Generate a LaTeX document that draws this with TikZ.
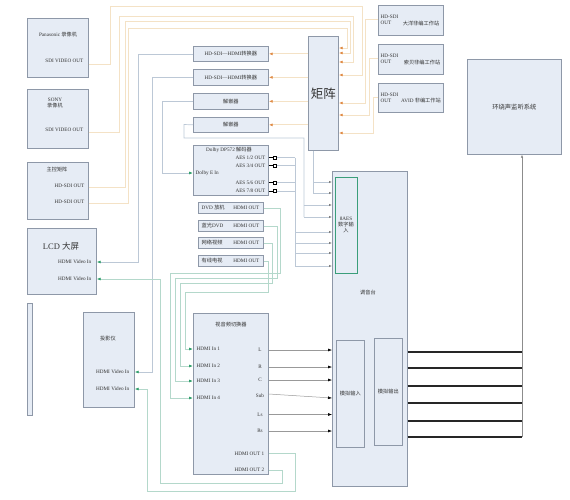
\documentclass[tikz,border=0pt]{standalone}
\usepackage{fontspec}
\setmainfont{Liberation Serif}
\newfontfamily\cjk{Noto Sans CJK SC}
\newcommand\zhs[1]{{\cjk #1}}
\usetikzlibrary{arrows.meta}
\definecolor{boxfill}{HTML}{E6ECF5}
\definecolor{boxline}{HTML}{8E98A8}
\definecolor{sdiline}{HTML}{F4E2C6}
\definecolor{sdiarrow}{HTML}{E08B45}
\definecolor{hdline}{HTML}{B4D8CB}
\definecolor{hdarrow}{HTML}{2E9E6A}
\definecolor{grayline}{HTML}{BCC8D6}
\definecolor{txt}{HTML}{333333}
\definecolor{aesgreen}{HTML}{3A9E7A}
\begin{document}
\begin{tikzpicture}[x=1pt,y=-1pt,
 box/.style={draw=boxline,fill=boxfill,line width=0.7pt,inner sep=0pt,anchor=north west},
 lbl/.style={text=txt,font=\fontsize{5.2}{6}\selectfont,inner sep=0.5pt},
 sdi/.style={draw=sdiline,line width=0.8pt},
 sdiarr/.style={sdi,-{Latex[length=4pt,width=3pt,color=sdiarrow]}},
 hd/.style={draw=hdline,line width=0.7pt},
 hdarr/.style={hd,-{Latex[length=4pt,width=3pt,color=hdarrow]}},
 gl/.style={draw=grayline,line width=0.7pt},
 glarr/.style={gl,-{Latex[length=3pt,width=2.4pt,color=gray]}},
 garr/.style={gl,-{Latex[length=4pt,width=3pt,color=hdarrow]}},
 blkarr/.style={draw=gray!80,line width=0.5pt,-{Latex[length=4pt,width=3pt,color=black]}},
 aout/.style={draw=black!85,line width=1.1pt},
 plug/.style={draw=black,fill=white,line width=0.4pt,minimum size=3pt,inner sep=0pt},
]
\useasboundingbox (0,0) rectangle (570,499);

% ---------- left sources ----------
\node[box,minimum width=61pt,minimum height=59pt] (pana) at (27,18) {};
\node[lbl] (panat) at (58,35) {Panasonic \zhs{录像机}};
\node[lbl,anchor=east] (panaout) at (84,61) {SDI VIDEO OUT};

\node[box,minimum width=61pt,minimum height=59pt] (sony) at (27,89) {};
\node[lbl,align=center] (sonyt) at (55,103) {SONY\\\zhs{录像机}};
\node[lbl,anchor=east] (sonyout) at (84,130) {SDI VIDEO OUT};

\node[box,minimum width=61pt,minimum height=57pt] (mcm) at (27,162) {};
\node[lbl] (mcmt) at (57,170) {\zhs{主控矩阵}};
\node[lbl,anchor=east] (mcmo1) at (85,186) {HD-SDI OUT};
\node[lbl,anchor=east] (mcmo2) at (85,202) {HD-SDI OUT};

\node[box,minimum width=69pt,minimum height=66pt] (lcd) at (27,228) {};
\node[lbl,font=\fontsize{8.5}{10}\selectfont] (lcdt) at (61,246) {LCD \zhs{大屏}};
\node[lbl,anchor=east] (lcdin1) at (92,262) {HDMI Video In};
\node[lbl,anchor=east] (lcdin2) at (92,279) {HDMI Video In};

\node[box,minimum width=5pt,minimum height=112pt] (bar) at (27,303) {};

\node[box,minimum width=51pt,minimum height=95pt] (proj) at (83,312) {};
\node[lbl] (projt) at (108,339) {\zhs{投影仪}};
\node[lbl,anchor=east] (projin1) at (130,372) {HDMI Video In};
\node[lbl,anchor=east] (projin2) at (130,389) {HDMI Video In};

% ---------- middle column ----------
\node[box,minimum width=75pt,minimum height=15pt] (conv1) at (193,46) {};
\node[lbl] at (conv1.center) {HD-SDI—HDMI\zhs{转换器}};
\node[box,minimum width=75pt,minimum height=16pt] (conv2) at (193,69) {};
\node[lbl] at (conv2.center) {HD-SDI—HDMI\zhs{转换器}};
\node[box,minimum width=75pt,minimum height=16pt] (dem1) at (193,93) {};
\node[lbl] at (dem1.center) {\zhs{解嵌器}};
\node[box,minimum width=75pt,minimum height=15pt] (dem2) at (193,117) {};
\node[lbl] at (dem2.center) {\zhs{解嵌器}};

\node[box,minimum width=75pt,minimum height=50pt] (dolby) at (193,145) {};
\node[lbl] (dolbyt) at (229,150) {Dolby DP572 \zhs{解码器}};
\node[lbl,anchor=east] (aes1) at (266,157.5) {AES 1/2 OUT};
\node[lbl,anchor=east] (aes2) at (266,165.5) {AES 3/4 OUT};
\node[lbl,anchor=west] (dolbyin) at (195,173) {Dolby E In};
\node[lbl,anchor=east] (aes3) at (266,182.5) {AES 5/6 OUT};
\node[lbl,anchor=east] (aes4) at (266,191) {AES 7/8 OUT};

\node[box,minimum width=65pt,minimum height=11pt] (dvd) at (198,202) {};
\node[lbl,anchor=west] at (201,207.5) {DVD \zhs{放机}};
\node[lbl,anchor=east] at (260,207.5) {HDMI OUT};
\node[box,minimum width=65pt,minimum height=11pt] (blu) at (198,220) {};
\node[lbl,anchor=west] at (201,225.5) {\zhs{蓝光}DVD};
\node[lbl,anchor=east] at (260,225.5) {HDMI OUT};
\node[box,minimum width=65pt,minimum height=11pt] (net) at (198,237) {};
\node[lbl,anchor=west] at (201,242.5) {\zhs{网络视频}};
\node[lbl,anchor=east] at (260,242.5) {HDMI OUT};
\node[box,minimum width=65pt,minimum height=11pt] (cab) at (198,255) {};
\node[lbl,anchor=west] at (201,260.5) {\zhs{有线电视}};
\node[lbl,anchor=east] at (260,260.5) {HDMI OUT};

\node[box,minimum width=75pt,minimum height=161pt] (sw) at (193,313) {};
\node[lbl] (swt) at (231,325) {\zhs{视音频切换器}};
\node[lbl,anchor=west] (swin1) at (196,349) {HDMI In 1};
\node[lbl,anchor=west] (swin2) at (196,366) {HDMI In 2};
\node[lbl,anchor=west] (swin3) at (196,381) {HDMI In 3};
\node[lbl,anchor=west] (swin4) at (196,398) {HDMI In 4};
\node[lbl] (swL) at (260,350) {L};
\node[lbl] (swR) at (260,367) {R};
\node[lbl] (swC) at (260,380) {C};
\node[lbl] (swSub) at (260,396) {Sub};
\node[lbl] (swLs) at (260,414.5) {Ls};
\node[lbl] (swRs) at (260,431) {Rs};
\node[lbl,anchor=east] (swout1) at (265,453.5) {HDMI OUT 1};
\node[lbl,anchor=east] (swout2) at (265,470) {HDMI OUT 2};

% ---------- matrix & workstations ----------
\node[box,minimum width=30pt,minimum height=114pt] (mtx) at (308,36) {};
\node[lbl,font=\fontsize{12.5}{14}\selectfont] at (mtx.center) {\zhs{矩阵}};

\node[box,minimum width=65pt,minimum height=30pt] (ws1) at (378,5) {};
\node[lbl,anchor=west,align=left] at (380,20) {HD-SDI\\OUT};
\node[lbl] at (421,24) {\zhs{大洋非编工作站}};
\node[box,minimum width=65pt,minimum height=30pt] (ws2) at (378,44) {};
\node[lbl,anchor=west,align=left] at (380,59) {HD-SDI\\OUT};
\node[lbl] at (422,63) {\zhs{索贝非编工作站}};
\node[box,minimum width=65pt,minimum height=29pt] (ws3) at (378,83) {};
\node[lbl,anchor=west,align=left] at (380,97.5) {HD-SDI\\OUT};
\node[lbl] at (421,101) {AVID \zhs{非编工作站}};

\node[box,minimum width=94pt,minimum height=95pt] (surr) at (467,59) {};
\node[lbl,font=\fontsize{6.3}{7.5}\selectfont] at (surr.center) {\zhs{环绕声监听系统}};

% ---------- mixer ----------
\node[box,minimum width=75pt,minimum height=315pt] (mixer) at (332,171) {};
\node[lbl] at (368,292) {\zhs{调音台}};
\node[box,draw=aesgreen,line width=1pt,minimum width=22pt,minimum height=96pt] (aes8) at (335,177) {};
\node[lbl,align=center,fill=boxfill] at (346,225) {8AES\\\zhs{数字输}\\\zhs{入}};
\node[box,minimum width=28pt,minimum height=107pt] (ain) at (336,340) {};
\node[lbl] at (ain.center) {\zhs{模拟输入}};
\node[box,minimum width=28pt,minimum height=107pt] (aoutb) at (374,338) {};
\node[lbl] at (aoutb.center) {\zhs{模拟输出}};

% ---------- SDI connectors into matrix ----------
\draw[sdiarr] (pana.east|-0,64) -| (110,6) -| (362,75) -- (mtx.east|-0,75);
\draw[sdiarr] (sony.east|-0,132) -| (119,16) -| (353,62) -- (mtx.east|-0,62);
\draw[sdiarr] (mcm.east|-0,187) -| (125,21) -| (350,53) -- (mtx.east|-0,53);
\draw[sdiarr] (mcm.east|-0,203) -| (128,28) -| (347,48) -- (mtx.east|-0,48);
\draw[sdiarr] (ws1.west|-0,19) -| (365,103) -- (mtx.east|-0,103);
\draw[sdiarr] (ws2.west|-0,58) -| (369,115) -- (mtx.east|-0,115);
\draw[sdiarr] (ws3.west|-0,97) -| (373,133) -- (mtx.east|-0,133);

% matrix outputs to converters / de-embedders
\draw[sdiarr] (mtx.west|-conv1) -- (conv1.east);
\draw[sdiarr] (mtx.west|-conv2) -- (conv2.east);
\draw[sdiarr] (mtx.west|-dem1) -- (dem1.east);
\draw[sdiarr] (mtx.west|-dem2) -- (dem2.east);

% converter / de-embedder outputs
\draw[garr] (conv1.west) -| (138,262) -- (lcd.east|-lcdin1);
\draw[garr] (conv2.west) -| (152,372) -- (proj.east|-projin1);
\draw[garr] (dem1.west) -| (162,173) -- (dolby.west|-dolbyin);
\draw[gl] (dem2.west) -- (184,124.5) |- (304,138) -- (304,217);
\draw[glarr] (304,205) -- (mixer.west|-0,205);
\draw[glarr] (304,217) -- (mixer.west|-0,217);
\draw[gl] (mtx.south-|313,0) -- (313,193);
\draw[glarr] (313,182) -- (mixer.west|-0,182);
\draw[glarr] (313,193) -- (mixer.west|-0,193);

% Dolby AES outputs
\foreach \a/\p/\yy in {aes1/p1/157.5,aes2/p2/165.5,aes3/p3/182.5,aes4/p4/191}{
  \node[plug] (\p) at (275,\yy) {};
  \draw[black,line width=1pt] (dolby.east|-\p) -- (\p.west);
  \draw[gl] (\p.east) -- (295,\yy);
}
\draw[gl] (295,157.5) -- (295,266);
\draw[glarr] (295,232) -- (mixer.west|-0,232);
\draw[glarr] (295,243) -- (mixer.west|-0,243);
\draw[glarr] (295,253) -- (mixer.west|-0,253);
\draw[glarr] (295,266) -- (mixer.west|-0,266);

% HDMI sources into switcher
\draw[hdarr] (dvd.east) -| (280,273) -| (170,398) -- (sw.west|-swin4);
\draw[hdarr] (blu.east) -| (277,278) -| (175,381) -- (sw.west|-swin3);
\draw[hdarr] (net.east) -| (272,283) -| (180,366) -- (sw.west|-swin2);
\draw[hdarr] (cab.east) -| (268,292) -| (185,349) -- (sw.west|-swin1);

% switcher HDMI outputs
\draw[hdarr] (sw.east|-swout1) -| (295,491) -| (147,389) -- (proj.east|-projin2);
\draw[hdarr] (sw.east|-swout2) -| (282,483) -| (160,279) -- (lcd.east|-lcdin2);

% analog audio into mixer
\draw[blkarr] (sw.east|-swL) -- (mixer.west|-swL);
\draw[blkarr] (sw.east|-swR) -- (mixer.west|-swR);
\draw[blkarr] (sw.east|-swC) -- (mixer.west|-swC);
\draw[blkarr] (sw.east|-0,394) -- (mixer.west|-0,398);
\draw[blkarr] (sw.east|-swLs) -- (mixer.west|-swLs);
\draw[blkarr] (sw.east|-swRs) -- (mixer.west|-swRs);

% analog outputs to monitoring
\foreach \yy in {352,368,386,403,421,437}{
  \draw[aout] (mixer.east|-0,\yy) -- (522,\yy);
}
\draw[draw=gray!90,line width=0.6pt,-{Latex[length=3pt,width=2.4pt,color=gray]}] (522,437) -- (surr.south-|522,0);
\end{tikzpicture}
\end{document}
